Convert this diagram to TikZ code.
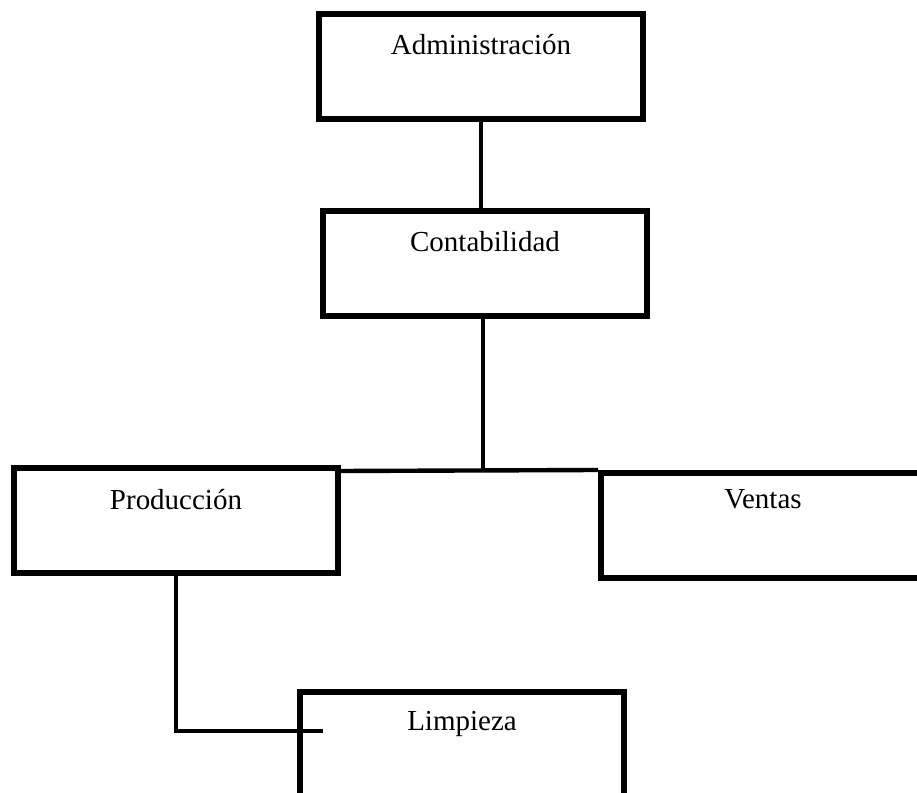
\documentclass[tikz,border=0pt]{standalone}
\usepackage{fontspec}
\setmainfont{Liberation Serif}
\tikzset{
  caja/.style={draw, line width=3.4pt, minimum width=6.48cm, inner ysep=0pt,
    text height=0.82cm, text depth=1.28cm, anchor=north,
    font=\fontsize{16.5}{19}\selectfont},
  linea/.style={line width=2.5pt}
}
\begin{document}
\begin{tikzpicture}[x=0.02cm,y=-0.02cm]
\useasboundingbox (0,0) rectangle (917,793);
\clip (0,0) rectangle (917,793);
%boxes
\node[caja] (admin) at (481,11) {Administración};
\node[caja] (conta) at (485,208) {Contabilidad};
\node[caja] (prod) at (176,465.5) {Producción};
\node[caja,text height=0.72cm,text depth=1.38cm] (ventas) at (763,470) {Ventas};
\node[caja,text height=0.78cm,text depth=1.32cm] (limp) at (462,689) {Limpieza};
%connectors
\coordinate (bus) at (483,470);
\coordinate (lend) at (323,731);
\draw[linea] (admin.south) -- (admin.south |- conta.north);
\draw[linea] (bus |- conta.south) -- (bus);
\draw[linea] ([yshift=-0.11cm]prod.north east) -- (ventas.north west);
\draw[linea] (prod.south) |- (lend);
\end{tikzpicture}
\end{document}
